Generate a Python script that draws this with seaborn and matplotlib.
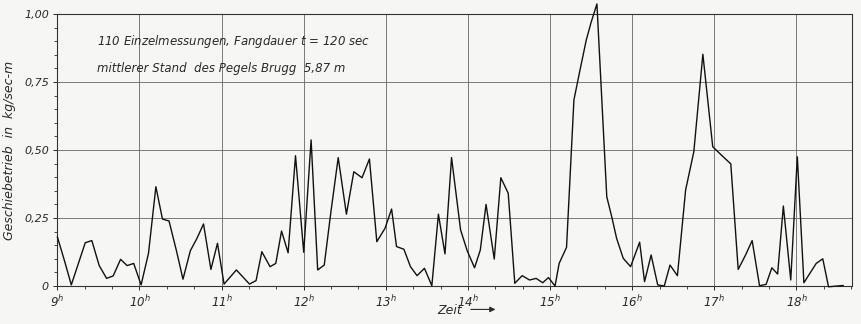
import numpy as np
import pandas as pd
import matplotlib
matplotlib.use("Agg")
import matplotlib.pyplot as plt
import seaborn as sns

# Uhrzeit (decimal hours) and Geschiebetrieb (kg/sec·m)
zeit = [9.00, 9.09, 9.17, 9.34, 9.42, 9.51, 9.60, 9.68, 9.77, 9.85,
        9.93, 10.02, 10.11, 10.20, 10.28, 10.36, 10.45, 10.53, 10.62, 10.70,
        10.78, 10.87, 10.95, 11.03, 11.18, 11.34, 11.42, 11.49, 11.59, 11.66,
        11.73, 11.81, 11.90, 12.00, 12.09, 12.17, 12.25, 12.33, 12.42, 12.52,
        12.61, 12.71, 12.80, 12.89, 12.99, 13.07, 13.13, 13.22, 13.30, 13.38,
        13.47, 13.56, 13.64, 13.72, 13.80, 13.91, 13.99, 14.08, 14.15, 14.22,
        14.32, 14.40, 14.49, 14.57, 14.66, 14.75, 14.83, 14.91, 14.98, 15.06,
        15.11, 15.20, 15.29, 15.36, 15.44, 15.50, 15.57, 15.69, 15.75, 15.81,
        15.89, 15.98, 16.09, 16.15, 16.23, 16.31, 16.39, 16.46, 16.55, 16.65,
        16.75, 16.86, 16.98, 17.09, 17.20, 17.29, 17.38, 17.46, 17.55, 17.63,
        17.70, 17.77, 17.84, 17.93, 18.01, 18.09, 18.24, 18.32, 18.39, 18.57]
geschiebe = [0.181, 0.090, 0.004, 0.159, 0.167, 0.075, 0.028, 0.037, 0.098, 0.075,
             0.083, 0.004, 0.120, 0.365, 0.246, 0.239, 0.130, 0.025, 0.130, 0.175,
             0.228, 0.061, 0.157, 0.007, 0.059, 0.007, 0.020, 0.126, 0.071, 0.083,
             0.202, 0.122, 0.479, 0.124, 0.537, 0.059, 0.077, 0.270, 0.472, 0.264,
             0.420, 0.398, 0.467, 0.163, 0.212, 0.283, 0.145, 0.135, 0.071, 0.038,
             0.065, 0.001, 0.264, 0.118, 0.472, 0.206, 0.130, 0.067, 0.132, 0.300,
             0.099, 0.398, 0.341, 0.010, 0.038, 0.022, 0.028, 0.012, 0.031, 0.000,
             0.083, 0.142, 0.684, 0.788, 0.904, 0.970, 1.037, 0.328, 0.255, 0.175,
             0.102, 0.071, 0.161, 0.016, 0.114, 0.004, 0.000, 0.077, 0.038, 0.353,
             0.494, 0.852, 0.512, 0.480, 0.449, 0.061, 0.114, 0.167, 0.001, 0.006,
             0.067, 0.044, 0.294, 0.022, 0.475, 0.012, 0.083, 0.100, -0.003, 0.002]

stunden = [9, 10, 11, 12, 13, 14, 15, 16, 17, 18]
y_ticks = [0, 0.25, 0.50, 0.75, 1.00]
y_labels = ["0", "0,25", "0,50", "0,75", "1,00"]

df = pd.DataFrame({"zeit": zeit, "geschiebe": geschiebe})

sns.set_theme(style="ticks")
plt.rcParams["font.family"] = ["DejaVu Sans"]
plt.rcParams["mathtext.default"] = "it"

paper = "#f6f6f4"
ink = "#2a2a2a"

fig = plt.figure(figsize=(8.62, 3.24), dpi=100, facecolor=paper)
ax = fig.add_axes([0.0665, 0.1173, 0.9223, 0.8395])
ax.set_facecolor(paper)

sns.lineplot(data=df, x="zeit", y="geschiebe", ax=ax, color="#111111",
             linewidth=1.0, clip_on=False, zorder=3)

ax.set_xlim(9, 18.68)
ax.set_ylim(0, 1.0)

ax.set_xticks(stunden)
ax.set_xticklabels([f"{h}$^h$" for h in stunden], fontsize=8.5,
                   fontstyle="italic", color=ink)
ax.set_xticks(np.arange(9, 18.68, 1 / 3), minor=True)
ax.set_yticks(y_ticks)
ax.set_yticklabels(y_labels, fontsize=8, fontstyle="italic", color=ink)
ax.set_yticks(np.arange(0, 1.0001, 0.05), minor=True)

ax.tick_params(axis="both", which="major", length=3, width=0.7, color=ink, pad=3)
ax.tick_params(axis="both", which="minor", length=2.5, width=0.6, color=ink)

ax.grid(True, which="major", color="#666666", linewidth=0.6)
for s in ax.spines.values():
    s.set_color("#333333")
    s.set_linewidth(0.8)

ax.set_xlabel("")
ax.set_ylabel("Geschiebetrieb  in  kg/sec-m", fontsize=9, fontstyle="italic",
              color=ink, labelpad=6)

ax.text(0.05, 0.885, "110 Einzelmessungen, Fangdauer $t$ = 120 sec",
        transform=ax.transAxes, fontsize=8.5, fontstyle="italic", color=ink)
ax.text(0.05, 0.785, "mittlerer Stand  des Pegels Brugg  5,87 m",
        transform=ax.transAxes, fontsize=8.5, fontstyle="italic", color=ink)

fig.text(0.507, 0.03, "Zeit", fontsize=9, fontstyle="italic", color=ink)
fig.patches.append(matplotlib.patches.FancyArrowPatch(
    (0.543, 0.045), (0.578, 0.045), transform=fig.transFigure,
    arrowstyle="-|>", mutation_scale=8, color=ink, linewidth=0.8))

fig.savefig("out.png", dpi=100, facecolor=paper)
